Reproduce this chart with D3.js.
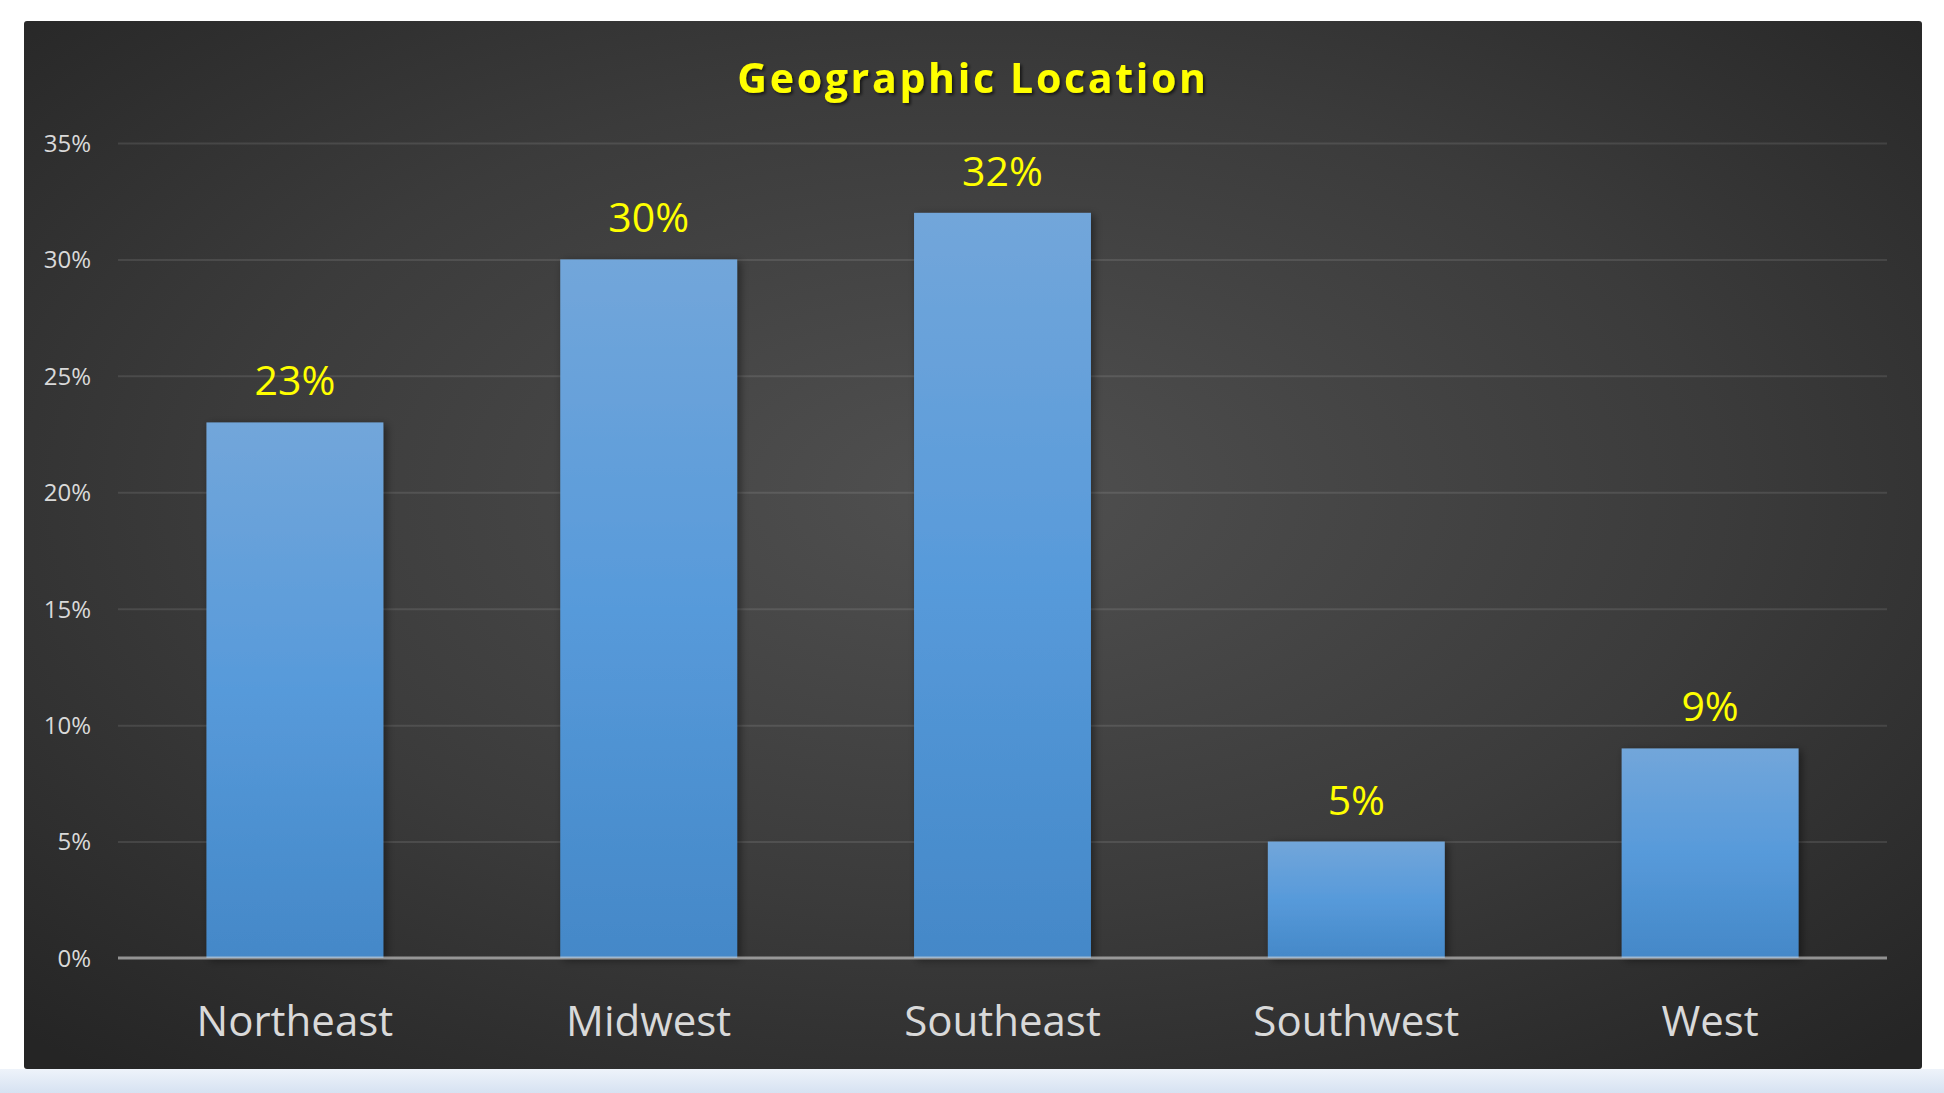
<!DOCTYPE html>
<html>
<head>
<meta charset="utf-8">
<script src="https://cdn.jsdelivr.net/npm/d3@7"></script>
<style>
  html, body { margin: 0; padding: 0; background: #ffffff; }
  svg { display: block; }
</style>
</head>
<body>
<svg id="chart" width="1944" height="1093"></svg>
<script>
const categories = ["Northeast", "Midwest", "Southeast", "Southwest", "West"];
const values = [0.23, 0.30, 0.32, 0.05, 0.09];
const yTicks = [0, 0.05, 0.10, 0.15, 0.20, 0.25, 0.30, 0.35];
const titleText = "Geographic Location";

const W = 1944, H = 1093;
const panel = { x: 24, y: 21, w: 1898, h: 1048 };
const plot = { left: 118, right: 1887, top: 143, bottom: 958 };

const svg = d3.select("#chart");
const defs = svg.append("defs");

// page bottom band
const band = defs.append("linearGradient").attr("id", "band").attr("x1", 0).attr("y1", 0).attr("x2", 0).attr("y2", 1);
band.append("stop").attr("offset", 0).attr("stop-color", "#eef3fa");
band.append("stop").attr("offset", 1).attr("stop-color", "#d6e2f2");

// panel background
const bg = defs.append("radialGradient").attr("id", "bg")
  .attr("cx", 0.5).attr("cy", 0.45).attr("r", 0.72);
bg.append("stop").attr("offset", 0).attr("stop-color", "#505050");
bg.append("stop").attr("offset", 0.55).attr("stop-color", "#3b3b3b");
bg.append("stop").attr("offset", 1).attr("stop-color", "#252525");

// bar gradient
const bg2 = defs.append("linearGradient").attr("id", "barGrad").attr("x1", 0).attr("y1", 0).attr("x2", 0).attr("y2", 1);
bg2.append("stop").attr("offset", 0).attr("stop-color", "#72a6da");
bg2.append("stop").attr("offset", 0.5).attr("stop-color", "#579ada");
bg2.append("stop").attr("offset", 1).attr("stop-color", "#4488c8");

const shadow = defs.append("filter").attr("id", "barShadow")
  .attr("x", "-20%").attr("y", "-20%").attr("width", "150%").attr("height", "150%");
shadow.append("feDropShadow").attr("dx", 3).attr("dy", 2).attr("stdDeviation", 4)
  .attr("flood-color", "#000").attr("flood-opacity", 0.45);

const tshadow = defs.append("filter").attr("id", "titleShadow")
  .attr("x", "-10%").attr("y", "-30%").attr("width", "120%").attr("height", "160%");
tshadow.append("feDropShadow").attr("dx", 2).attr("dy", 2).attr("stdDeviation", 1.5)
  .attr("flood-color", "#000").attr("flood-opacity", 0.6);

svg.append("rect").attr("x", 0).attr("y", panel.y + panel.h).attr("width", W).attr("height", H - panel.y - panel.h)
  .attr("fill", "url(#band)");

svg.append("rect").attr("x", panel.x).attr("y", panel.y).attr("width", panel.w).attr("height", panel.h)
  .attr("rx", 3).attr("fill", "url(#bg)");

const x = d3.scaleBand().domain(categories).range([plot.left, plot.right])
  .paddingInner(0.5).paddingOuter(0.25);
const y = d3.scaleLinear().domain([0, 0.35]).range([plot.bottom, plot.top]);

// gridlines
const grid = svg.append("g").attr("transform", `translate(${plot.left},0)`)
  .call(d3.axisLeft(y).tickValues(yTicks.filter(t => t > 0)).tickSize(-(plot.right - plot.left)).tickFormat(""));
grid.select(".domain").remove();
grid.selectAll("line").attr("stroke", "#ffffff").attr("stroke-opacity", 0.1).attr("stroke-width", 2);

// y tick labels
const yAxis = svg.append("g").attr("transform", `translate(91,0)`)
  .call(d3.axisLeft(y).tickValues(yTicks).tickSize(0).tickPadding(0).tickFormat(d3.format(".0%")));
yAxis.select(".domain").remove();
yAxis.selectAll("text").attr("fill", "#d9d9d9").attr("font-family", "'Open Sans', sans-serif")
  .attr("font-size", 24).attr("dy", "0.35em");

// bars
svg.append("g").selectAll("rect").data(values).join("rect")
  .attr("x", (d, i) => x(categories[i]))
  .attr("y", d => y(d))
  .attr("width", x.bandwidth())
  .attr("height", d => y(0) - y(d))
  .attr("fill", "url(#barGrad)")
  .attr("filter", "url(#barShadow)");

// axis line
svg.append("line").attr("x1", plot.left).attr("x2", plot.right).attr("y1", y(0)).attr("y2", y(0))
  .attr("stroke", "#d9d9d9").attr("stroke-opacity", 0.6).attr("stroke-width", 3);

// category labels
const xAxis = svg.append("g").attr("transform", `translate(0,${plot.bottom})`)
  .call(d3.axisBottom(x).tickSize(0).tickPadding(0));
xAxis.select(".domain").remove();
xAxis.selectAll("text").attr("fill", "#d9d9d9").attr("font-family", "'Open Sans', sans-serif")
  .attr("font-size", 42).attr("dy", 0).attr("y", 78);

// data labels
svg.append("g").selectAll("text").data(values).join("text")
  .attr("x", (d, i) => x(categories[i]) + x.bandwidth() / 2)
  .attr("y", d => y(d) - 27)
  .attr("text-anchor", "middle")
  .attr("fill", "#ffff00")
  .attr("font-family", "'Open Sans', sans-serif")
  .attr("font-size", 41)
  .text(d => d3.format(".0%")(d));

// title
svg.append("text").attr("x", panel.x + panel.w / 2).attr("y", 93)
  .attr("text-anchor", "middle")
  .attr("fill", "#ffff00")
  .attr("font-family", "'Open Sans', sans-serif")
  .attr("font-weight", "bold")
  .attr("font-size", 41)
  .attr("letter-spacing", 2.7)
  .attr("filter", "url(#titleShadow)")
  .text(titleText);
</script>
</body>
</html>
